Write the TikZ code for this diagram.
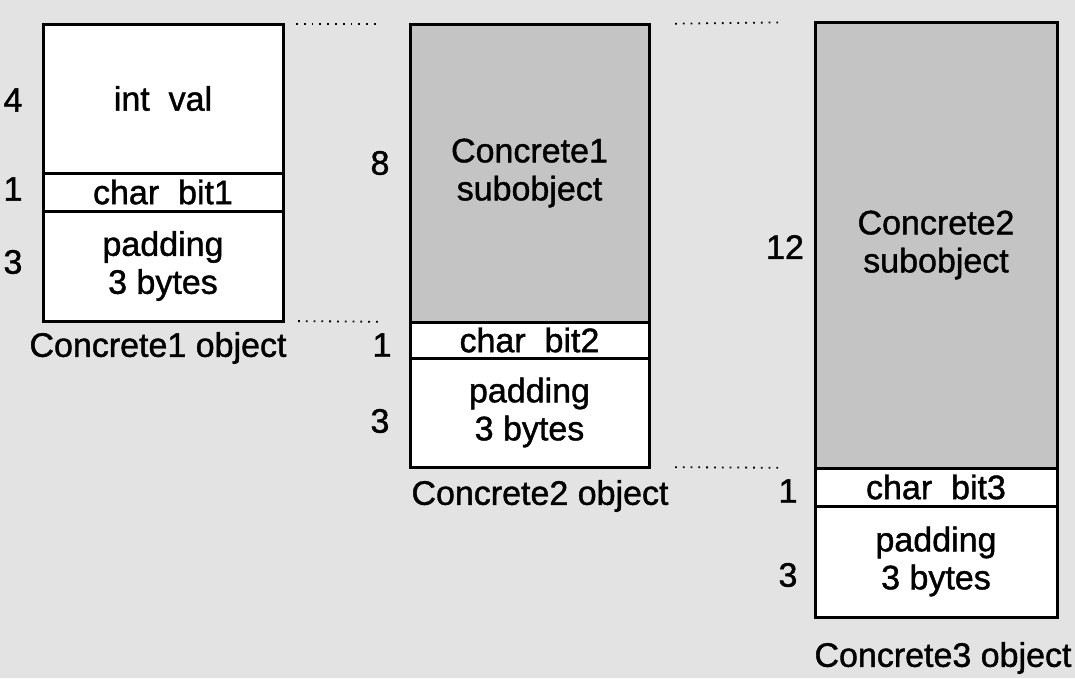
\documentclass[tikz,border=0pt]{standalone}
\usepackage{fontspec}
\setmainfont{Liberation Sans}[FakeBold=0.6]
\newfontfamily\labelfont{Liberation Sans}[FakeBold=1.2]
\begin{document}
\begin{tikzpicture}[x=1pt,y=-1pt,
  every node/.style={font=\fontsize{34}{38}\labelfont, text=black, inner sep=0pt},
  cell/.style={draw=black, line width=3pt, fill=white, align=center, outer sep=0pt},
  subcell/.style={cell, fill=black!23},
  size/.style={anchor=center},
  caption/.style={anchor=center},
  dotline/.style={draw=black, line width=1.8pt, dash pattern=on 1.8pt off 6pt}
]
% page background
\fill[black!11] (0,0) rectangle (1075,678);
\useasboundingbox (0,0) rectangle (1075,678);

% Concrete1 object
\node[cell, minimum width=240, minimum height=149] (c1int) at (163,98.5) {int\ \ val};
\node[cell, minimum width=240, minimum height=38]  (c1chr) at (163,192) {char\ \ bit1};
\node[cell, minimum width=240, minimum height=110] (c1pad) at (163,266) {padding\\3 bytes};
\node[size] (c1n4) at (13,100) {4};
\node[size] (c1n1) at (13,189) {1};
\node[size] (c1n3) at (13,262) {3};
\node[caption] (c1cap) at (158,348) {Concrete1 object};

% Concrete2 object
\node[subcell, minimum width=239, minimum height=298] (c2sub) at (529.5,173) {Concrete1\\subobject};
\node[cell, minimum width=239, minimum height=36]  (c2chr) at (529.5,340) {char\ \ bit2};
\node[cell, minimum width=239, minimum height=109] (c2pad) at (529.5,412.5) {padding\\3 bytes};
\node[size] (c2n8) at (380,163) {8};
\node[size] (c2n1) at (382,345) {1};
\node[size] (c2n3) at (380,421) {3};
\node[caption] (c2cap) at (540,496) {Concrete2 object};

% Concrete3 object
\node[subcell, minimum width=242, minimum height=446] (c3sub) at (936,245) {Concrete2\\subobject};
\node[cell, minimum width=242, minimum height=38]  (c3chr) at (936,487) {char\ \ bit3};
\node[cell, minimum width=242, minimum height=111] (c3pad) at (936,561.5) {padding\\3 bytes};
\node[size] (c3n12) at (785,247) {12};
\node[size] (c3n1) at (788,491) {1};
\node[size] (c3n3) at (788,575) {3};
\node[caption] (c3cap) at (943,658) {Concrete3 object};

% dotted guides between the objects
\draw[dotline, shorten <=13pt, shorten >=29pt] (c1int.north east) -- (c2sub.north west);
\draw[dotline, shorten <=15pt, shorten >=28pt] (c1pad.south east) -- (c2sub.south west);
\draw[dotline, shorten <=26pt, shorten >=37pt] (c2sub.north east) -- (c3sub.north west);
\draw[dotline, shorten <=26pt, shorten >=36pt] (c2pad.south east) -- (c3sub.south west);
\end{tikzpicture}
\end{document}
